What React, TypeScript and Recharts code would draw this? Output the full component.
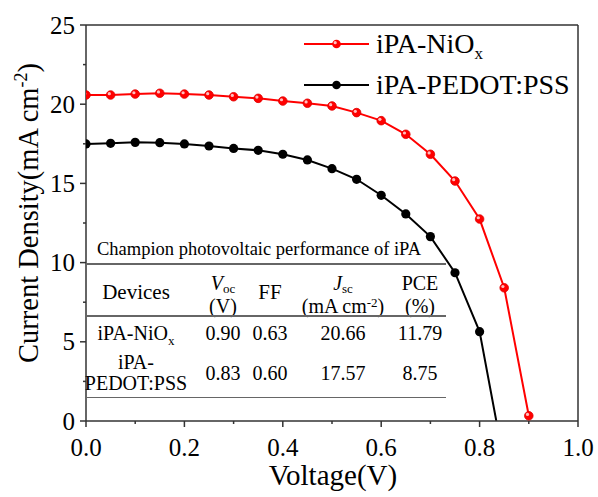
import { Legend, Line, LineChart, ReferenceLine, XAxis, YAxis } from 'recharts'

// J-V sweep
const voltage = [0, 0.05, 0.1, 0.15, 0.2, 0.25, 0.3, 0.35, 0.4, 0.45, 0.5, 0.55, 0.6, 0.65, 0.7, 0.75, 0.8, 0.85, 0.9]
const nioxJ = [20.58, 20.58, 20.64, 20.69, 20.64, 20.58, 20.47, 20.37, 20.2, 20.06, 19.89, 19.47, 18.96, 18.1, 16.84, 15.15, 12.75, 8.41, 0.33]
const pedotV = [0, 0.05, 0.1, 0.15, 0.2, 0.25, 0.3, 0.35, 0.4, 0.45, 0.5, 0.55, 0.6, 0.65, 0.7, 0.75, 0.8, 0.834]
const pedotJ = [17.49, 17.53, 17.59, 17.57, 17.49, 17.36, 17.21, 17.09, 16.84, 16.48, 15.93, 15.26, 14.25, 13.07, 11.64, 9.36, 5.64, 0]
const pedotMarked = 17 // last point (crossing at Voc) has no symbol

const xTicks = [0, 0.1, 0.2, 0.3, 0.4, 0.5, 0.6, 0.7, 0.8, 0.9, 1.0]
const xMajor = [0, 0.2, 0.4, 0.6, 0.8, 1.0]
const yTicks = [0, 2.5, 5, 7.5, 10, 12.5, 15, 17.5, 20, 22.5, 25]
const yMajor = [0, 5, 10, 15, 20, 25]

const tableTitle = 'Champion photovoltaic performance of iPA'
const tableVoc = ['0.90', '0.83']
const tableFF = ['0.63', '0.60']
const tableJsc = ['20.66', '17.57']
const tablePCE = ['11.79', '8.75']

const FONT = '"Liberation Serif", "Times New Roman", serif'
const AXIS = '#333'
const INK = '#000'

const nioxData = voltage.map((v, i) => ({ v, j: nioxJ[i], mark: true }))
const pedotData = pedotV.map((v, i) => ({ v, j: pedotJ[i], mark: i < pedotMarked }))

function XTick({ x, y, payload }: any) {
  const major = xMajor.some((m) => Math.abs(m - payload.value) < 1e-6)
  return (
    <g>
      <line x1={x} x2={x} y1={y} y2={y + (major ? 6 : 3)} stroke={AXIS} strokeWidth={1.5} />
      {major && (
        <text x={x} y={y + 35} textAnchor="middle" fontSize={25} fontFamily={FONT} fill={INK}>
          {payload.value.toFixed(1)}
        </text>
      )}
    </g>
  )
}

function YTick({ x, y, payload }: any) {
  const major = yMajor.includes(payload.value)
  return (
    <g>
      <line x1={x} x2={x - (major ? 6 : 3)} y1={y} y2={y} stroke={AXIS} strokeWidth={1.5} />
      {major && (
        <text x={x - 11} y={y + 8.5} textAnchor="end" fontSize={25} fontFamily={FONT} fill={INK}>
          {payload.value}
        </text>
      )}
    </g>
  )
}

function RedBall({ cx, cy, index }: any) {
  return (
    <g key={`r${index}`}>
      <circle cx={cx} cy={cy} r={4.3} fill="#f00" stroke="#e00000" strokeWidth={0.8} />
      <circle cx={cx - 1.3} cy={cy - 1.3} r={1.6} fill="#fff" opacity={0.75} />
    </g>
  )
}

function BlackDot({ cx, cy, index, payload }: any) {
  if (!payload.mark) return <g key={`b${index}`} />
  return <circle key={`b${index}`} cx={cx} cy={cy} r={4.6} fill="#000" />
}

// small lowered / raised text without growing the line box
function Sub({ children, size = 13, dy = 5 }: { children: React.ReactNode; size?: number; dy?: number }) {
  return <span style={{ fontSize: size, position: 'relative', top: dy, lineHeight: 0 }}>{children}</span>
}

function LegendBox() {
  const row = (color: string, ball: boolean, label: React.ReactNode) => (
    <div style={{ display: 'flex', alignItems: 'center', height: 41 }}>
      <svg width={74} height={14} style={{ flex: 'none' }}>
        <line x1={2} x2={67} y1={7} y2={7} stroke={color} strokeWidth={2} />
        {ball ? (
          <>
            <circle cx={34.5} cy={7} r={4.3} fill="#f00" />
            <circle cx={33.2} cy={5.7} r={1.6} fill="#fff" opacity={0.75} />
          </>
        ) : (
          <circle cx={34.5} cy={7} r={4.3} fill="#000" />
        )}
      </svg>
      <span style={{ fontFamily: FONT, fontSize: 28, color: INK, whiteSpace: 'nowrap', lineHeight: 1 }}>{label}</span>
    </div>
  )
  return (
    <div>
      {row('#f00', true, <>iPA-NiO<Sub size={17} dy={6}>x</Sub></>)}
      {row('#000', false, 'iPA-PEDOT:PSS')}
    </div>
  )
}

function Cell({ x, y, size = 20, children }: { x: number; y: number; size?: number; children: React.ReactNode }) {
  return (
    <div
      style={{
        position: 'absolute',
        left: x,
        top: y,
        transform: 'translate(-50%, -50%)',
        fontFamily: FONT,
        fontSize: size,
        lineHeight: 1,
        whiteSpace: 'nowrap',
        color: INK,
      }}
    >
      {children}
    </div>
  )
}

function Rule({ y }: { y: number }) {
  return <div style={{ position: 'absolute', left: 86, top: y - 0.75, width: 360, height: 1.5, background: '#666' }} />
}

export default function App() {
  return (
    <div style={{ position: 'absolute', left: 0, top: 0, width: 598, height: 497, background: '#fff' }}>
      <LineChart width={598} height={497} margin={{ top: 25, right: 20, bottom: 0, left: 26 }}>
        <XAxis
          dataKey="v"
          type="number"
          domain={[0, 1]}
          ticks={xTicks}
          interval={0}
          height={76}
          tickSize={0}
          tickMargin={0}
          tickLine={false}
          axisLine={{ stroke: AXIS, strokeWidth: 1.5 }}
          tick={<XTick />}
          allowDataOverflow
        />
        <YAxis
          type="number"
          domain={[0, 25]}
          ticks={yTicks}
          interval={0}
          width={60}
          tickSize={0}
          tickMargin={0}
          tickLine={false}
          axisLine={{ stroke: AXIS, strokeWidth: 1.5 }}
          tick={<YTick />}
          allowDataOverflow
        />
        <ReferenceLine y={25} stroke={AXIS} strokeWidth={1.5} />
        <ReferenceLine x={1} stroke={AXIS} strokeWidth={1.5} />
        <Legend
          layout="vertical"
          align="center"
          verticalAlign="middle"
          content={<LegendBox />}
          wrapperStyle={{ position: 'absolute', left: 302, top: 23, width: 292, height: 82 }}
        />
        <Line
          data={nioxData}
          dataKey="j"
          name="iPA-NiOx"
          stroke="#f00"
          strokeWidth={2}
          dot={<RedBall />}
          activeDot={false}
          isAnimationActive={false}
        />
        <Line
          data={pedotData}
          dataKey="j"
          name="iPA-PEDOT:PSS"
          stroke="#000"
          strokeWidth={2}
          dot={<BlackDot />}
          activeDot={false}
          isAnimationActive={false}
        />
      </LineChart>

      {/* axis titles */}
      <div
        style={{
          position: 'absolute',
          left: 29,
          top: 213,
          transform: 'translate(-50%, -50%) rotate(-90deg)',
          fontFamily: FONT,
          fontSize: 28.5,
          lineHeight: 1,
          whiteSpace: 'nowrap',
          color: INK,
        }}
      >
        Current Density(mA cm<Sub size={18} dy={-11}>-2</Sub>)
      </div>
      <div
        style={{
          position: 'absolute',
          left: 333,
          top: 461,
          transform: 'translateX(-50%)',
          fontFamily: FONT,
          fontSize: 29,
          lineHeight: 1,
          whiteSpace: 'nowrap',
          color: INK,
        }}
      >
        Voltage(V)
      </div>

      {/* inset table */}
      <div style={{ position: 'absolute', left: 97, top: 240, fontFamily: FONT, fontSize: 18.5, lineHeight: 1, whiteSpace: 'nowrap', color: INK }}>
        {tableTitle}
      </div>
      <Rule y={264} />
      <Cell x={136} y={292} size={21}>Devices</Cell>
      <Cell x={223} y={283} size={20}>
        <i>V</i>
        <Sub size={13} dy={3}>oc</Sub>
      </Cell>
      <Cell x={223} y={306} size={20}>(V)</Cell>
      <Cell x={270} y={292} size={21}>FF</Cell>
      <Cell x={343} y={283} size={20}>
        <i>J</i>
        <Sub size={13} dy={3}>sc</Sub>
      </Cell>
      <Cell x={343} y={306} size={20}>
        (mA cm<Sub size={13} dy={-6}>-2</Sub>)
      </Cell>
      <Cell x={420} y={283} size={20}>PCE</Cell>
      <Cell x={420} y={306} size={20}>(%)</Cell>
      <Rule y={316} />
      <Cell x={136} y={333}>
        iPA-NiO<Sub size={13} dy={5}>x</Sub>
      </Cell>
      <Cell x={136} y={362}>iPA-</Cell>
      <Cell x={136} y={383}>PEDOT:PSS</Cell>
      {[333, 373].map((y, i) => (
        <div key={y}>
          <Cell x={223} y={y}>{tableVoc[i]}</Cell>
          <Cell x={270} y={y}>{tableFF[i]}</Cell>
          <Cell x={343} y={y}>{tableJsc[i]}</Cell>
          <Cell x={420} y={y}>{tablePCE[i]}</Cell>
        </div>
      ))}
      <Rule y={397.5} />
    </div>
  )
}
